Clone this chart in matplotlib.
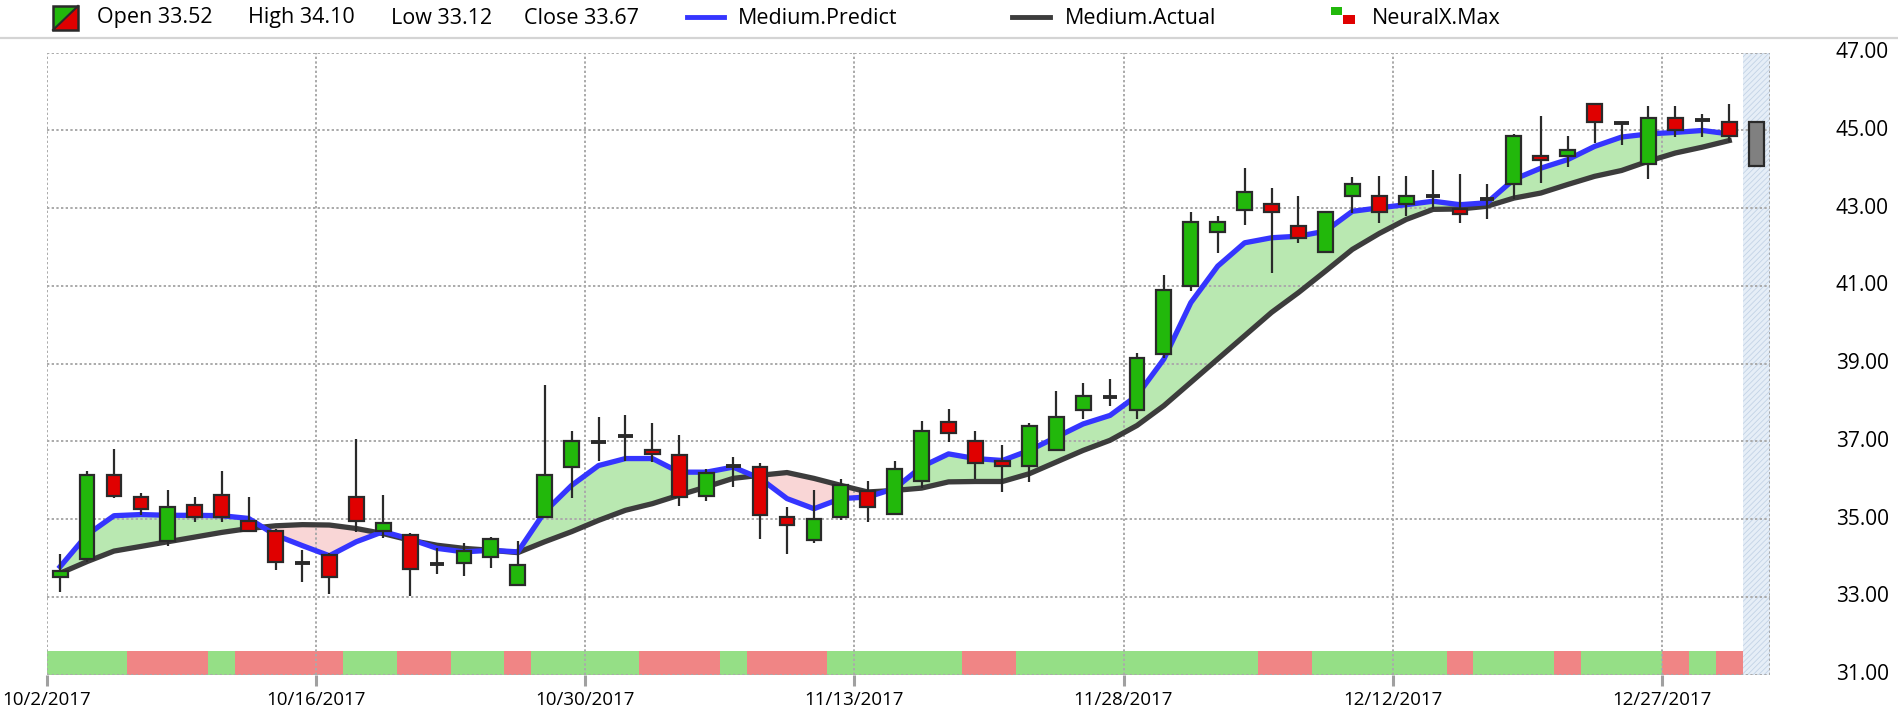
import matplotlib
matplotlib.use('Agg')
import matplotlib.pyplot as plt
import matplotlib.transforms as mtransforms
from matplotlib.patches import Rectangle, Polygon
from matplotlib.lines import Line2D
import numpy as np

plt.rcParams['font.family'] = ['Open Sans', 'DejaVu Sans']
plt.rcParams['hatch.linewidth'] = 0.6

# daily OHLC, 10/2/2017 .. 12/29/2017 (trading days)
opens = [33.52, 33.97, 36.13, 35.56, 34.44, 35.36, 35.62, 34.95, 34.69, 33.87,
         34.08, 35.56, 34.69, 34.59, 33.85, 33.87, 34.03, 33.31, 35.05, 36.33,
         36.98, 37.13, 36.79, 36.64, 35.60, 36.36, 36.33, 35.05, 34.47, 35.05,
         35.72, 35.14, 35.97, 37.51, 37.00, 36.49, 36.38, 36.79, 37.82, 38.15,
         37.82, 39.24, 41.00, 42.38, 42.95, 43.10, 42.54, 41.87, 43.31, 43.31,
         43.10, 43.31, 42.97, 43.24, 43.62, 44.33, 44.33, 45.67, 45.19, 44.13,
         45.31, 45.26, 45.21]
highs = [34.10, 36.25, 36.81, 35.68, 35.74, 35.58, 36.25, 35.58, 34.74, 34.20,
         34.12, 37.07, 35.63, 34.64, 34.25, 34.40, 34.54, 34.44, 38.45, 37.27,
         37.63, 37.68, 37.48, 37.17, 36.30, 36.61, 36.45, 35.32, 35.74, 36.03,
         35.99, 36.50, 37.53, 37.84, 37.27, 36.91, 37.48, 38.30, 38.50, 38.61,
         39.27, 41.27, 42.91, 42.81, 44.04, 43.53, 43.32, 42.90, 43.79, 43.84,
         43.84, 43.99, 43.89, 43.63, 44.90, 45.38, 44.86, 45.67, 45.19, 45.63,
         45.63, 45.43, 45.68]
lows = [33.12, 33.90, 35.55, 35.12, 34.32, 34.93, 34.93, 34.67, 33.69, 33.39,
        33.07, 34.67, 34.52, 33.03, 33.60, 33.55, 33.75, 33.31, 35.05, 35.55,
        36.50, 36.50, 36.47, 35.34, 35.48, 35.84, 34.50, 34.11, 34.40, 34.98,
        34.93, 35.14, 35.80, 36.98, 36.04, 35.70, 35.96, 36.79, 37.58, 37.91,
        37.58, 39.14, 40.86, 41.85, 42.57, 41.34, 42.11, 41.87, 42.88, 42.62,
        42.79, 42.97, 42.62, 42.73, 43.24, 43.65, 44.06, 44.68, 44.62, 43.75,
        44.83, 44.83, 44.71]
closes = [33.67, 36.13, 35.60, 35.26, 35.31, 35.05, 35.05, 34.69, 33.91, 33.87,
          33.51, 34.95, 34.90, 33.72, 33.85, 34.18, 34.49, 33.82, 36.13, 37.00,
          36.98, 37.13, 36.69, 35.56, 36.18, 36.36, 35.10, 34.85, 35.00, 35.87,
          35.31, 36.28, 37.26, 37.21, 36.44, 36.38, 37.41, 37.62, 38.18, 38.15,
          39.15, 40.90, 42.64, 42.64, 43.41, 42.90, 42.23, 42.90, 43.62, 42.90,
          43.31, 43.31, 42.85, 43.24, 44.85, 44.23, 44.49, 45.22, 45.19, 45.31,
          45.00, 45.26, 44.85]

medium_predict = [33.78, 34.60, 35.09, 35.12, 35.10, 35.10, 35.09, 35.02, 34.59, 34.32,
                  34.06, 34.42, 34.68, 34.49, 34.25, 34.16, 34.20, 34.16, 35.19, 35.87,
                  36.38, 36.56, 36.56, 36.21, 36.21, 36.34, 36.05, 35.53, 35.27, 35.53,
                  35.57, 35.79, 36.35, 36.68, 36.56, 36.51, 36.77, 37.11, 37.45, 37.67,
                  38.18, 39.12, 40.57, 41.51, 42.11, 42.24, 42.28, 42.41, 42.92, 43.01,
                  43.09, 43.18, 43.09, 43.14, 43.74, 44.03, 44.25, 44.59, 44.83, 44.91,
                  44.95, 45.00, 44.91]
medium_actual = [33.61, 33.91, 34.18, 34.30, 34.42, 34.54, 34.66, 34.76, 34.83, 34.86,
                 34.85, 34.76, 34.63, 34.46, 34.33, 34.25, 34.20, 34.14, 34.42, 34.68,
                 34.97, 35.23, 35.40, 35.62, 35.83, 36.05, 36.13, 36.20, 36.05, 35.87,
                 35.70, 35.74, 35.80, 35.96, 35.97, 35.97, 36.17, 36.47, 36.77, 37.03,
                 37.41, 37.92, 38.52, 39.12, 39.72, 40.32, 40.83, 41.38, 41.94, 42.35,
                 42.71, 42.97, 42.98, 43.05, 43.26, 43.39, 43.61, 43.82, 43.97, 44.21,
                 44.42, 44.57, 44.74]

# NeuralX.Max signal per day: 1 = buy (green), -1 = sell (red)
neuralx_signal = [1, 1, 1, -1, -1, -1, 1, -1, -1, -1,
                  -1, 1, 1, -1, -1, 1, 1, -1, 1, 1,
                  1, 1, -1, -1, -1, 1, -1, -1, -1, 1,
                  1, 1, 1, 1, -1, -1, 1, 1, 1, 1,
                  1, 1, 1, 1, 1, -1, -1, 1, 1, 1,
                  1, 1, -1, 1, 1, 1, -1, 1, 1, 1,
                  -1, 1, -1]

# next-day forecast bar
forecast_high = 45.21
forecast_low = 44.08

tick_pos = [0, 10, 20, 30, 40, 50, 60]
tick_labels = ['10/2/2017', '10/16/2017', '10/30/2017', '11/13/2017',
               '11/28/2017', '12/12/2017', '12/27/2017']
y_levels = [31, 33, 35, 37, 39, 41, 43, 45, 47]

legend_ohlc = {'Open': 33.52, 'High': 34.10, 'Low': 33.12, 'Close': 33.67}

GREEN = '#22b80b'
RED = '#e00000'
DARK = '#2a2a2a'
GRID = '#aaaaaa'

W, H = 1898, 728
fig = plt.figure(figsize=(W / 100, H / 100), dpi=100)
left, right, top, bottom = 46.7, 1769.6, 52.7, 674.7
ax = fig.add_axes([left / W, 1 - bottom / H, (right - left) / W, (bottom - top) / H])
ax.set_xlim(0, 64)
ax.set_ylim(31, 47)
for s in ax.spines.values():
    s.set_visible(False)

o = np.array(opens); h = np.array(highs); l = np.array(lows); c = np.array(closes)
pred = np.array(medium_predict); act = np.array(medium_actual)
n = len(o)
x = np.arange(n) + 0.5

# signal band at the bottom
band_cols = ['#95df86' if s > 0 else '#f08585' for s in neuralx_signal]
ax.bar(x, 0.6, bottom=31, width=1.0, color=band_cols, lw=0, zorder=1)

# forecast (hatched) zone
ax.add_patch(Rectangle((n, 31), 1, 16, facecolor='#e6eef7', edgecolor='#c3d3e6',
                       hatch='//////', lw=0, zorder=0.5))

# grid
for yv in y_levels:
    ax.axhline(yv, color=GRID, lw=1.4, ls=(0, (1.2, 1.2)), zorder=2)
for xv in tick_pos + [n + 1]:
    ax.axvline(xv, color=GRID, lw=1.4, ls=(0, (1.2, 1.2)), zorder=2)

# area between predicted and actual
ax.fill_between(x, pred, act, where=pred >= act, interpolate=True,
                color='#b9e8b1', lw=0, zorder=1.5)
ax.fill_between(x, pred, act, where=pred < act, interpolate=True,
                color='#f9d6d6', lw=0, zorder=1.5)
ax.plot(x, act, color='#3c3c3c', lw=3.8, solid_joinstyle='round', zorder=3)
ax.plot(x, pred, color='#3535ff', lw=3.8, solid_joinstyle='round', zorder=3.2)

# candles
ax.vlines(x, l, h, color=DARK, lw=1.6, zorder=4)
up = c > o
dn = c < o
flat = c == o
bw = 0.55
ax.bar(x[up], (c - o)[up], bottom=o[up], width=bw, color=GREEN,
       edgecolor=DARK, lw=1.6, zorder=5)
ax.bar(x[dn], (o - c)[dn], bottom=c[dn], width=bw, color=RED,
       edgecolor=DARK, lw=1.6, zorder=5)
ax.hlines(o[flat], x[flat] - bw / 2, x[flat] + bw / 2, color=DARK, lw=2.8, zorder=5)
ax.bar(n + 0.5, forecast_high - forecast_low, bottom=forecast_low, width=bw,
       color='#808080', edgecolor=DARK, lw=1.6, zorder=5)

# axes labels
ax.set_yticks([])
ax.set_xticks(tick_pos)
ax.set_xticklabels(tick_labels)
ax.tick_params(axis='x', length=8, width=2.2, color='#a0a0a0', pad=4, labelsize=13.5)
trans = mtransforms.blended_transform_factory(fig.transFigure, ax.transData)
for yv in y_levels:
    ax.text(1889 / W, yv, f'{yv:.2f}', transform=trans, ha='right', va='center',
            fontsize=15, clip_on=False)

# header legend
def fx(px):
    return px / W


def fy(py):
    return 1 - py / H


fig.add_artist(Line2D([0, 1], [fy(38), fy(38)], color='#d4d4d4', lw=1.6,
                      transform=fig.transFigure))
fig.add_artist(Polygon([(fx(53), fy(6)), (fx(78), fy(6)), (fx(53), fy(30))],
                       closed=True, facecolor=GREEN, lw=0, transform=fig.transFigure))
fig.add_artist(Polygon([(fx(78), fy(6)), (fx(78), fy(30)), (fx(53), fy(30))],
                       closed=True, facecolor=RED, lw=0, transform=fig.transFigure))
fig.add_artist(Rectangle((fx(53), fy(30)), fx(25), 24 / H, facecolor='none',
                         edgecolor=DARK, lw=1.8, transform=fig.transFigure))
fig.add_artist(Line2D([fx(53), fx(78)], [fy(30), fy(6)], color=DARK, lw=1.5,
                      transform=fig.transFigure))
ty = fy(18)
for (name, val), px in zip(legend_ohlc.items(), [97, 248, 391, 524]):
    fig.text(fx(px), ty, f'{name} {val:.2f}', ha='left', va='center', fontsize=15.5)
fig.add_artist(Line2D([fx(687), fx(724)], [fy(17), fy(17)], color='#3535ff', lw=3.5,
                      transform=fig.transFigure))
fig.text(fx(738), ty, 'Medium.Predict', ha='left', va='center', fontsize=15.5)
fig.add_artist(Line2D([fx(1012), fx(1050)], [fy(17), fy(17)], color='#3c3c3c', lw=3.5,
                      transform=fig.transFigure))
fig.text(fx(1065), ty, 'Medium.Actual', ha='left', va='center', fontsize=15.5)
fig.add_artist(Rectangle((fx(1331), fy(15)), fx(11), 8 / H, facecolor=GREEN, lw=0,
                         transform=fig.transFigure))
fig.add_artist(Rectangle((fx(1343), fy(24)), fx(12), 9 / H, facecolor=RED, lw=0,
                         transform=fig.transFigure))
fig.text(fx(1372), ty, 'NeuralX.Max', ha='left', va='center', fontsize=15.5)

fig.savefig('out.png', dpi=100)
plt.close(fig)
